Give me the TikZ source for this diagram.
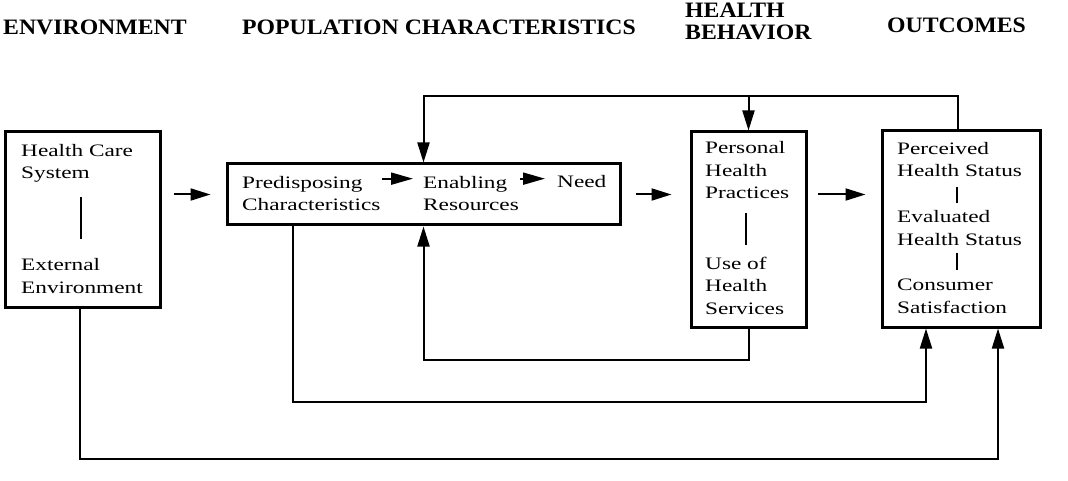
\documentclass[tikz,border=0pt]{standalone}
\usepackage{fontspec}
\setmainfont{Liberation Serif}[FakeStretch=1.33]
\newfontfamily\headfont{Liberation Serif}[FakeStretch=1.08]
\usetikzlibrary{arrows.meta,calc}
\tikzset{
  box/.style={draw, line width=3pt, inner sep=0pt},
  txt/.style={anchor=base west, align=left, inner sep=0pt, font=\fontsize{17.5}{22.5}\selectfont},
  head/.style={anchor=base west, align=left, inner sep=0pt, font=\headfont\bfseries\fontsize{22}{22}\selectfont},
  link/.style={line width=2pt},
  arr/.style={line width=2pt, -{Triangle[length=20pt,width=12pt]}},
  sarr/.style={line width=2pt, -{Triangle[length=22pt,width=12pt]}},
}
\begin{document}
\begin{tikzpicture}[x=1pt,y=-1pt]
  \useasboundingbox (0,0) rectangle (1068,481);
  \node[head] (henv) at (3,35) {ENVIRONMENT};
  \node[head] (hpop) at (242,35) {POPULATION CHARACTERISTICS};
  \node[head] (hbeh) at (685,40) {HEALTH\\BEHAVIOR};
  \node[head] (hout) at (887,33) {OUTCOMES};
  \node[box, minimum width=155pt, minimum height=175pt] (env) at (82.5,219.5) {};
  \node[box, minimum width=393pt, minimum height=61pt] (pop) at (423.5,194.5) {};
  \node[box, minimum width=115pt, minimum height=195pt] (beh) at (748.5,229.5) {};
  \node[box, minimum width=158pt, minimum height=196pt] (out) at (961,229) {};
  \node[txt] (hcs) at (21,179) {Health Care\\System};
  \node[txt] (ext) at (21,293) {External\\Environment};
  \node[txt] (pre) at (242,211) {Predisposing\\Characteristics};
  \node[txt] (ena) at (423,211) {Enabling\\Resources};
  \node[txt] (need) at (557,188) {Need};
  \node[txt] (php) at (705,199) {Personal\\Health\\Practices};
  \node[txt] (uhs) at (705,314) {Use of\\Health\\Services};
  \node[txt] (phs) at (897,177) {Perceived\\Health Status};
  \node[txt] (ehs) at (897,245) {Evaluated\\Health Status};
  \node[txt] (csat) at (897,313) {Consumer\\Satisfaction};
  \draw[link] (81,197) -- (81,239);
  \draw[link] (746,213) -- (746,245);
  \draw[link] (957,187) -- (957,203);
  \draw[link] (957,253) -- (957,270);
  \draw[sarr] ([xshift=1pt,yshift=-3pt]pre.east |- need.north) -- ([xshift=-10pt,yshift=-3pt]ena.west |- need.north);
  \draw[sarr] ([xshift=1pt,yshift=-3pt]ena.east |- need.north) -- ([xshift=-12pt,yshift=-3pt]need.west |- need.north);
  \draw[arr] ([xshift=12pt]env.east |- pop.west) -- ([xshift=-15pt]pop.west);
  \draw[arr] ([xshift=14pt]pop.east) -- ([xshift=-18pt]pop.east -| beh.west);
  \draw[arr] ([xshift=10pt]pop.east -| beh.east) -- ([xshift=-15pt]pop.east -| out.west);
  \draw[arr] ([xshift=-3pt]out.north) -- ++(0,-33) -| (pop.north);
  \draw[arr] ([yshift=34pt]beh.north) -- (beh.north);
  \draw[arr] (beh.south) -- ++(0,31) -| (pop.south);
  \draw[arr] ([xshift=-130.5pt]pop.south) -- ++(0,175) -| ([xshift=-35pt]out.south);
  \draw[arr] ([xshift=-2.5pt]env.south) -- ++(0,150) -| ([xshift=37pt]out.south);
\end{tikzpicture}
\end{document}
